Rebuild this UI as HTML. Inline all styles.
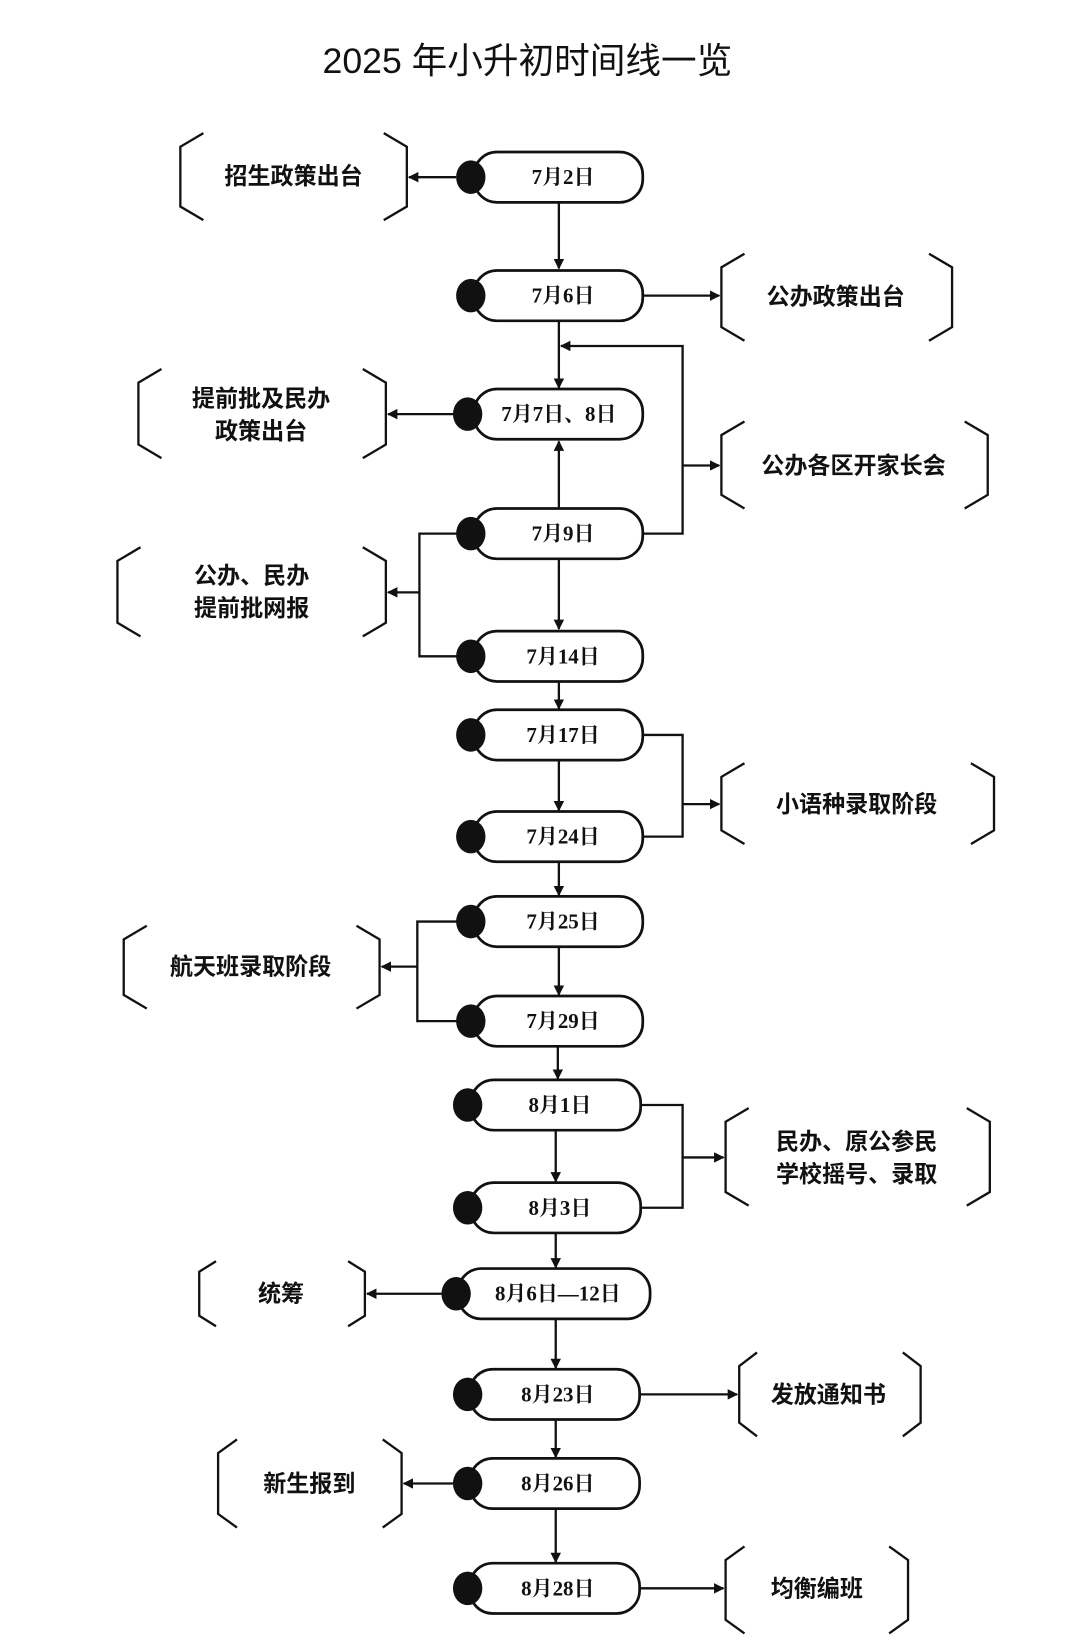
<!DOCTYPE html>
<html><head><meta charset="utf-8"><style>
html,body{margin:0;padding:0;background:#fff;}
svg{display:block;}
.p{fill:#fff;stroke:#111;stroke-width:2.6;}
.l{fill:none;stroke:#111;stroke-width:2.2;}
.b{fill:none;stroke:#111;stroke-width:2.2;}
.pt{font-family:"Liberation Serif","Noto Serif CJK SC",serif;font-weight:bold;font-size:20px;fill:#111;text-anchor:middle;dominant-baseline:central;}
.bt{font-family:"Liberation Sans","Noto Sans CJK SC",sans-serif;font-weight:bold;font-size:22px;fill:#111;text-anchor:middle;dominant-baseline:central;}
</style></head><body>
<svg width="1080" height="1646" viewBox="0 0 1030 1570" preserveAspectRatio="none" xmlns="http://www.w3.org/2000/svg">
<defs><marker id="a" markerWidth="10" markerHeight="10" refX="9" refY="5" orient="auto" markerUnits="userSpaceOnUse"><path d="M0,0 L10,5 L0,10 z" fill="#111"/></marker></defs>
<text x="503" y="58" style="font-family:'Liberation Sans','Noto Sans CJK SC',sans-serif;font-size:34px;fill:#111;text-anchor:middle;dominant-baseline:central;">2025 年小升初时间线一览</text>

<!-- vertical connectors -->
<g class="l">
<line x1="533" y1="194" x2="533" y2="256" marker-end="url(#a)"/>
<line x1="533" y1="307" x2="533" y2="370" marker-end="url(#a)"/>
<line x1="533" y1="484" x2="533" y2="421" marker-end="url(#a)"/>
<line x1="533" y1="534" x2="533" y2="600" marker-end="url(#a)"/>
<line x1="533" y1="651" x2="533" y2="676" marker-end="url(#a)"/>
<line x1="533" y1="726" x2="533" y2="773" marker-end="url(#a)"/>
<line x1="533" y1="823" x2="533" y2="854" marker-end="url(#a)"/>
<line x1="533" y1="904" x2="533" y2="949" marker-end="url(#a)"/>
<line x1="532" y1="999" x2="532" y2="1029" marker-end="url(#a)"/>
<line x1="530" y1="1079" x2="530" y2="1127" marker-end="url(#a)"/>
<line x1="530" y1="1177" x2="530" y2="1209" marker-end="url(#a)"/>
<line x1="530" y1="1259" x2="530" y2="1305" marker-end="url(#a)"/>
<line x1="530" y1="1355" x2="530" y2="1390" marker-end="url(#a)"/>
<line x1="530" y1="1440" x2="530" y2="1490" marker-end="url(#a)"/>
<!-- side connectors -->
<line x1="435" y1="169" x2="390" y2="169" marker-end="url(#a)"/>
<line x1="613" y1="282" x2="686" y2="282" marker-end="url(#a)"/>
<polyline points="613,509 651,509 651,330 535,330" marker-end="url(#a)"/>
<line x1="651" y1="444" x2="686" y2="444" marker-end="url(#a)"/>
<line x1="435" y1="395" x2="370" y2="395" marker-end="url(#a)"/>
<polyline points="436,509 400,509 400,626 436,626"/>
<line x1="400" y1="565" x2="370" y2="565" marker-end="url(#a)"/>
<polyline points="613,701 651,701 651,798 613,798"/>
<line x1="651" y1="767" x2="686" y2="767" marker-end="url(#a)"/>
<polyline points="436,879 398,879 398,974 436,974"/>
<line x1="398" y1="922" x2="364" y2="922" marker-end="url(#a)"/>
<polyline points="611,1054 651,1054 651,1152 611,1152"/>
<line x1="651" y1="1104" x2="690" y2="1104" marker-end="url(#a)"/>
<line x1="421" y1="1234" x2="350" y2="1234" marker-end="url(#a)"/>
<line x1="610" y1="1330" x2="703" y2="1330" marker-end="url(#a)"/>
<line x1="432" y1="1415" x2="385" y2="1415" marker-end="url(#a)"/>
<line x1="610" y1="1515" x2="690" y2="1515" marker-end="url(#a)"/>
</g>

<!-- pills -->
<g>
<rect class="p" x="452" y="145" width="161" height="48" rx="22"/><ellipse cx="449" cy="169" rx="14" ry="16" fill="#111"/><text class="pt" x="537" y="169">7月2日</text>
<rect class="p" x="452" y="258" width="161" height="48" rx="22"/><ellipse cx="449" cy="282" rx="14" ry="16" fill="#111"/><text class="pt" x="537" y="282">7月6日</text>
<rect class="p" x="452" y="371" width="161" height="48" rx="22"/><ellipse cx="446" cy="395" rx="14" ry="16" fill="#111"/><text class="pt" x="533" y="395">7月7日、8日</text>
<rect class="p" x="452" y="485" width="161" height="48" rx="22"/><ellipse cx="449" cy="509" rx="14" ry="16" fill="#111"/><text class="pt" x="537" y="509">7月9日</text>
<rect class="p" x="452" y="602" width="161" height="48" rx="22"/><ellipse cx="449" cy="626" rx="14" ry="16" fill="#111"/><text class="pt" x="537" y="626">7月14日</text>
<rect class="p" x="452" y="677" width="161" height="48" rx="22"/><ellipse cx="449" cy="701" rx="14" ry="16" fill="#111"/><text class="pt" x="537" y="701">7月17日</text>
<rect class="p" x="452" y="774" width="161" height="48" rx="22"/><ellipse cx="449" cy="798" rx="14" ry="16" fill="#111"/><text class="pt" x="537" y="798">7月24日</text>
<rect class="p" x="452" y="855" width="161" height="48" rx="22"/><ellipse cx="449" cy="879" rx="14" ry="16" fill="#111"/><text class="pt" x="537" y="879">7月25日</text>
<rect class="p" x="452" y="950" width="161" height="48" rx="22"/><ellipse cx="449" cy="974" rx="14" ry="16" fill="#111"/><text class="pt" x="537" y="974">7月29日</text>
<rect class="p" x="449" y="1030" width="162" height="48" rx="22"/><ellipse cx="446" cy="1054" rx="14" ry="16" fill="#111"/><text class="pt" x="534" y="1054">8月1日</text>
<rect class="p" x="449" y="1128" width="162" height="48" rx="22"/><ellipse cx="446" cy="1152" rx="14" ry="16" fill="#111"/><text class="pt" x="534" y="1152">8月3日</text>
<rect class="p" x="437" y="1210" width="183" height="48" rx="22"/><ellipse cx="435" cy="1234" rx="14" ry="16" fill="#111"/><text class="pt" x="532" y="1234">8月6日—12日</text>
<rect class="p" x="448" y="1306" width="162" height="48" rx="22"/><ellipse cx="446" cy="1330" rx="14" ry="16" fill="#111"/><text class="pt" x="532" y="1330">8月23日</text>
<rect class="p" x="448" y="1391" width="162" height="48" rx="22"/><ellipse cx="446" cy="1415" rx="14" ry="16" fill="#111"/><text class="pt" x="532" y="1415">8月26日</text>
<rect class="p" x="448" y="1491" width="162" height="48" rx="22"/><ellipse cx="446" cy="1515" rx="14" ry="16" fill="#111"/><text class="pt" x="532" y="1515">8月28日</text>
</g>

<!-- brackets -->
<g class="b">
<path d="M194,127 L172,140 L172,197 L194,210 M366,127 L388,140 L388,197 L366,210"/>
<path d="M710,242 L688,255 L688,312 L710,325 M886,242 L908,255 L908,312 L886,325"/>
<path d="M154,352 L132,365 L132,424 L154,437 M346,352 L368,365 L368,424 L346,437"/>
<path d="M710,402 L688,415 L688,472 L710,485 M920,402 L942,415 L942,472 L920,485"/>
<path d="M134,522 L112,535 L112,594 L134,607 M346,522 L368,535 L368,594 L346,607"/>
<path d="M710,728 L688,741 L688,792 L710,805 M926,728 L948,741 L948,792 L926,805"/>
<path d="M140,883 L118,896 L118,949 L140,962 M340,883 L362,896 L362,949 L340,962"/>
<path d="M714,1057 L692,1070 L692,1137 L714,1150 M922,1057 L944,1070 L944,1137 L922,1150"/>
<path d="M206,1203 L190,1213 L190,1255 L206,1265 M332,1203 L348,1213 L348,1255 L332,1265"/>
<path d="M722,1290 L705,1303 L705,1357 L722,1370 M861,1290 L878,1303 L878,1357 L861,1370"/>
<path d="M226,1373 L208,1386 L208,1444 L226,1457 M365,1373 L383,1386 L383,1444 L365,1457"/>
<path d="M710,1475 L692,1488 L692,1545 L710,1558 M848,1475 L866,1488 L866,1545 L848,1558"/>
</g>
<g>
<text class="bt" x="280" y="168">招生政策出台</text>
<text class="bt" x="797" y="283">公办政策出台</text>
<text class="bt" x="249" y="380">提前批及民办</text>
<text class="bt" x="249" y="411">政策出台</text>
<text class="bt" x="814" y="444">公办各区开家长会</text>
<text class="bt" x="240" y="549">公办、民办</text>
<text class="bt" x="240" y="580">提前批网报</text>
<text class="bt" x="817" y="767">小语种录取阶段</text>
<text class="bt" x="239" y="922">航天班录取阶段</text>
<text class="bt" x="817" y="1089">民办、原公参民</text>
<text class="bt" x="817" y="1120">学校摇号、录取</text>
<text class="bt" x="268" y="1234">统筹</text>
<text class="bt" x="790" y="1330">发放通知书</text>
<text class="bt" x="295" y="1415">新生报到</text>
<text class="bt" x="779" y="1515">均衡编班</text>
</g>
</svg>
</body></html>
